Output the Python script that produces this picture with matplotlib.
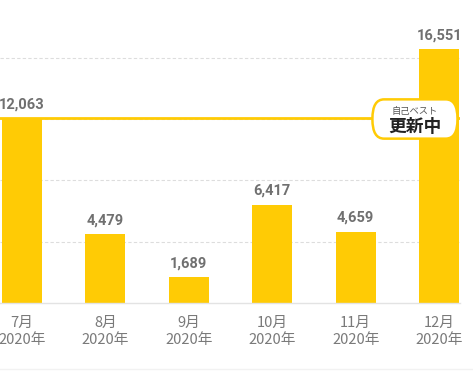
import matplotlib.pyplot as plt
from matplotlib.patches import FancyBboxPatch
from matplotlib.lines import Line2D

# monthly values
months = ['7月', '8月', '9月', '10月', '11月', '12月']
year = '2020年'
values = [12063, 4479, 1689, 6417, 4659, 16551]
best = 12063
grid_vals = [4000, 8000, 12000, 16000]

yellow = '#FFCB05'
gray_txt = '#707070'

fig = plt.figure(figsize=(4.73, 3.72), dpi=100)
ax = fig.add_axes([0, 69 / 372, 460 / 473, 303 / 372])

x = list(range(len(values)))
ax.bar(x, values, width=0.48, color=yellow, zorder=2)

for v in grid_vals:
    ax.axhline(v, color='#dddddd', lw=0.8, ls=(0, (3, 2)), zorder=1)

# personal best line
ax.axhline(best, color=yellow, lw=2, zorder=3)

for xi, v in zip(x, values):
    ax.annotate(f'{v:,}', (xi, v), xytext=(0, 7), textcoords='offset points',
                ha='center', va='baseline', fontsize=10.5, fontweight='bold',
                family='Roboto', color=gray_txt)

# badge
bx0, bx1 = 4.2, 5.22
box = FancyBboxPatch((bx0, best - 1350), bx1 - bx0, 2560,
                     boxstyle='round,pad=0,rounding_size=0.14',
                     mutation_aspect=9000,
                     fc='white', ec=yellow, lw=1.8, zorder=4)
ax.add_patch(box)
cx = (bx0 + bx1) / 2
ax.text(cx, best + 420, '自己ベスト', ha='center', va='center', fontsize=6.7,
        family=['Noto Sans CJK JP', 'DejaVu Sans'], color='#555555', zorder=5)
ax.text(cx, best - 560, '更新中', ha='center', va='center', fontsize=12.8,
        fontweight='bold', family=['Noto Sans CJK JP', 'DejaVu Sans'],
        color='#222222', zorder=5)

ax.set_xlim(-0.264, 5.25)
ax.set_ylim(0, 19750)
ax.set_xticks(x)
ax.set_xticklabels([m + '\n' + year for m in months],
                   family=['Noto Sans CJK JP', 'DejaVu Sans'],
                   fontsize=10.6, color='#7a7a7a', linespacing=1.3)
ax.tick_params(axis='x', length=0, pad=9)
ax.set_yticks([])
for s in ['top', 'right', 'left']:
    ax.spines[s].set_visible(False)
ax.spines['bottom'].set_color('#e3e3e3')
ax.spines['bottom'].set_linewidth(1)

fig.add_artist(Line2D([0, 1], [3 / 372, 3 / 372], color='#f2f2f2', lw=1))

fig.savefig('out.png', dpi=100)
